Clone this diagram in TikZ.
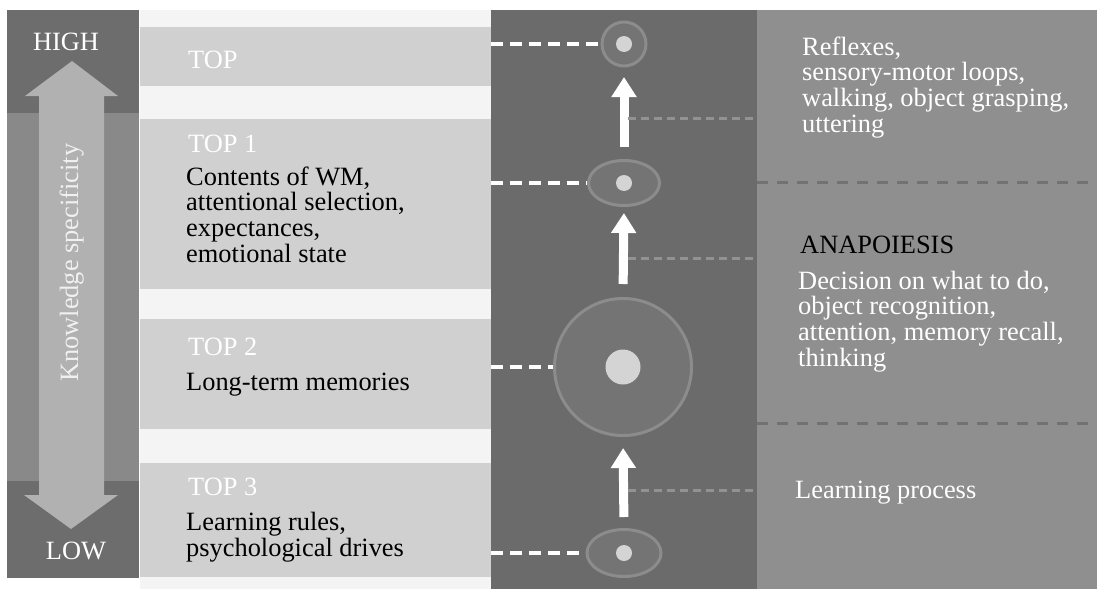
\documentclass[tikz,border=0pt]{standalone}
\usepackage{fontspec}
\setmainfont{Liberation Serif}
\usetikzlibrary{arrows.meta,shapes.geometric}
\definecolor{stripdark}{HTML}{6D6D6D}
\definecolor{stripmid}{HTML}{898989}
\definecolor{striparrow}{HTML}{B1B1B1}
\definecolor{lcolbg}{HTML}{F4F4F4}
\definecolor{panelgray}{HTML}{D0D0D0}
\definecolor{midcol}{HTML}{6B6B6B}
\definecolor{rightcol}{HTML}{8F8F8F}
\definecolor{ringfill}{HTML}{747474}
\definecolor{ringline}{HTML}{8C8C8C}
\definecolor{dotgray}{HTML}{D4D4D4}
\definecolor{gdashcol}{HTML}{929292}
\definecolor{sepcol}{HTML}{727272}
\begin{document}
\begin{tikzpicture}[x=1pt,y=-1pt,
  block/.style={inner sep=0pt, outer sep=0pt, draw=none},
  ring/.style={draw=ringline, fill=ringfill, line width=3pt, inner sep=0pt},
  dot/.style={circle, fill=dotgray, inner sep=0pt},
  txt/.style={inner sep=0pt, anchor=base west, align=left, font=\fontsize{26.4}{25.8}\selectfont},
  uparrow/.style={white, line width=9pt, -{Triangle[width=24pt,length=20pt]}},
  wdash/.style={white, line width=3.5pt, dash pattern=on 12pt off 7pt},
  gdash/.style={gdashcol, line width=3pt, dash pattern=on 8pt off 5pt},
  sepline/.style={sepcol, line width=3pt, dash pattern=on 11pt off 9pt}]
\useasboundingbox (0,0) rectangle (1097,589);
\fill[white] (0,0) rectangle (1097,589);
% columns
\node[block, fill=lcolbg, minimum width=351pt, minimum height=579pt] (lc) at (315.5,299.5) {};
\node[block, fill=midcol, minimum width=266pt, minimum height=579pt] (mc) at (624,299.5) {};
\node[block, fill=rightcol, minimum width=340pt, minimum height=579pt] (rc) at (927,299.5) {};
% left strip
\node[block, fill=stripdark, minimum width=132pt, minimum height=568pt] (ls) at (73,294) {};
\fill[stripmid] (7,113) rectangle (139,481);
\fill[striparrow] (72,61) -- (118,96) -- (104,96) -- (104,495) -- (118,495) -- (71,529)
  -- (24,495) -- (39,495) -- (39,96) -- (25,96) -- cycle;
\node[txt, anchor=base, white] (high) at (66,50) {HIGH};
\node[txt, anchor=base, white] (low) at (76,559) {LOW};
\node[txt, rotate=90, text=white!94!black] (ks) at (78,382) {Knowledge specificity};
% panels
\node[block, fill=panelgray, minimum width=351pt, minimum height=59pt] (p0) at (315.5,56.5) {};
\node[block, fill=panelgray, minimum width=351pt, minimum height=170pt] (p1) at (315.5,204) {};
\node[block, fill=panelgray, minimum width=351pt, minimum height=110pt] (p2) at (315.5,374) {};
\node[block, fill=panelgray, minimum width=351pt, minimum height=114pt] (p3) at (315.5,520) {};
\node[txt, white] (t0) at (188,68) {TOP};
\node[txt, white] (t1) at (188,152) {TOP 1};
\node[txt] (b1) at (186,262.4) {Contents of WM,\\attentional selection,\\expectances,\\emotional state};
\node[txt, white] (t2) at (188,355) {TOP 2};
\node[txt] (b2) at (186,390) {Long-term memories};
\node[txt, white] (t3) at (188,495) {TOP 3};
\node[txt] (b3) at (186,556.3) {Learning rules,\\psychological drives};
% rings
\node[ring, circle, minimum size=44pt] (c0) at (624,44) {};
\node[ring, ellipse, minimum width=71pt, minimum height=45pt] (c1) at (624,183) {};
\node[ring, circle, minimum size=137pt] (c2) at (623,367) {};
\node[ring, ellipse, minimum width=74pt, minimum height=47pt] (c3) at (624,553) {};
\node[dot, minimum size=16pt] (d0) at (c0) {};
\node[dot, minimum size=16pt] (d1) at (c1) {};
\node[dot, minimum size=35pt] (d2) at (c2) {};
\node[dot, minimum size=16pt] (d3) at (c3) {};
% white dashed connectors
\draw[wdash] (c0.west -| mc.west) -- (c0.west);
\draw[wdash] (c1.west -| mc.west) -- (c1.west);
\draw[wdash] (c2.west -| mc.west) -- (c2.west);
\draw[wdash] (c3.west -| mc.west) -- (c3.west);
% arrows
\draw[uparrow, shorten <=12pt, shorten >=9.5pt] (c1.north) -- (c0.south);
\draw[uparrow, shorten <=13pt, shorten >=6pt] (c2.north) -- (c1.south);
\draw[uparrow, shorten <=11pt, shorten >=11pt] (c3.north) -- (c2.south);
% gray dashed
\coordinate (g1) at (628,118);
\coordinate (g2) at (628,258);
\coordinate (g3) at (628,490);
\draw[gdash] (g1) -- (g1 -| rc.west);
\draw[gdash] (g2) -- (g2 -| rc.west);
\draw[gdash] (g3) -- (g3 -| rc.west);
% right separators
\coordinate (s1) at (757,182);
\coordinate (s2) at (757,423);
\draw[sepline] (s1) -- (s1 -| rc.east);
\draw[sepline] (s2) -- (s2 -| rc.east);
% right texts
\node[txt, white] (r1) at (802,132.4) {Reflexes,\\sensory-motor loops,\\walking, object grasping,\\uttering};
\node[txt] (ana) at (800,253) {ANAPOIESIS};
\node[txt, white] (r2) at (798,366.4) {Decision on what to do,\\object recognition,\\attention, memory recall,\\thinking};
\node[txt, white] (r3) at (795,498) {Learning process};
\end{tikzpicture}
\end{document}
